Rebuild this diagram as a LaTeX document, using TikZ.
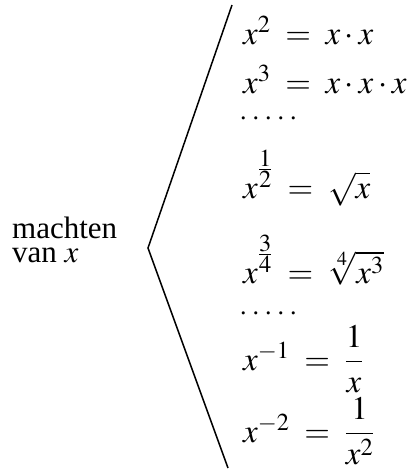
\documentclass[tikz,border=0pt]{standalone}
\usepackage{amsmath}
\usepackage{mathptmx}
\usepackage[no-math]{fontspec}
\setmainfont{Liberation Serif}
\newcommand{\eqs}{\mskip 4mu=\mskip 4mu}
\newcommand{\fexp}[2]{\raisebox{10pt}{$\scriptstyle\frac{\scriptstyle #1}{\scriptstyle #2}$}}
\begin{document}
\begin{tikzpicture}[x=1pt,y=-1pt,
  eq/.style={anchor=base west,inner sep=0pt,font=\fontsize{33}{38}\selectfont},
  lbl/.style={anchor=base west,inner sep=0pt,font=\fontsize{31}{34}\selectfont}]
\useasboundingbox (0,0) rectangle (409,474);
\coordinate (top) at (232,5);
\coordinate (tip) at (148,248);
\coordinate (bot) at (228,468);
\draw[line width=1.5pt] (top) -- (tip) -- (bot);
\node[lbl] (m1) at (12,238) {machten};
\node[lbl] (m2) at (12,262) {van $x$};
\node[eq] (e1) at (243,44) {$x^{2} \eqs x\cdot x$};
\node[eq] (e2) at (243,93) {$x^{3} \eqs x\cdot x\cdot x$};
\node[eq,font=\fontsize{26}{30}\selectfont] (d1) at (240,119) {.\hspace{6pt}.\hspace{6pt}.\hspace{6pt}.\hspace{6pt}.};
\node[eq] (e3) at (243,198) {$x^{\fexp{1}{2}} \eqs \sqrt{x}$};
\node[eq] (e4) at (243,283) {$x^{\fexp{3}{4}} \eqs \sqrt[4]{x^{3}}$};
\node[eq,font=\fontsize{26}{30}\selectfont] (d2) at (240,314) {.\hspace{6pt}.\hspace{6pt}.\hspace{6pt}.\hspace{6pt}.};
\node[eq] (e5) at (243,370) {$x^{-1} \eqs \dfrac{1}{x}$};
\node[eq] (e6) at (243,442) {$x^{-2} \eqs \dfrac{1}{x^{2}}$};
\end{tikzpicture}
\end{document}
